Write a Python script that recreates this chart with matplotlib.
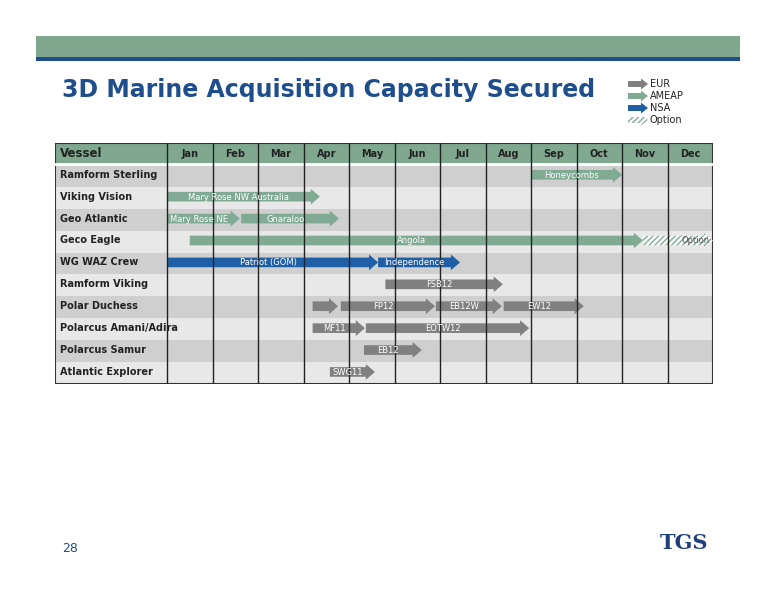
import matplotlib
matplotlib.use("Agg")
import matplotlib.pyplot as plt
from matplotlib.patches import Polygon, Rectangle

vessels = ["Ramform Sterling", "Viking Vision", "Geo Atlantic", "Geco Eagle", "WG WAZ Crew",
           "Ramform Viking", "Polar Duchess", "Polarcus Amani/Adira", "Polarcus Samur", "Atlantic Explorer"]
months = ["Jan", "Feb", "Mar", "Apr", "May", "Jun", "Jul", "Aug", "Sep", "Oct", "Nov", "Dec"]
# (row, start month, end month, label, region)
tasks = [
    (0, 8.0, 10.0, "Honeycombs", "AMEAP"),
    (1, 0.0, 3.36, "Mary Rose NW Australia", "AMEAP"),
    (2, 0.0, 1.6, "Mary Rose NE", "AMEAP"),
    (2, 1.63, 3.78, "Gnaraloo", "AMEAP"),
    (3, 0.5, 10.46, "Angola", "AMEAP"),
    (4, 0.0, 4.64, "Patriot (GOM)", "NSA"),
    (4, 4.64, 6.44, "Independence", "NSA"),
    (5, 4.8, 7.38, "FSB12", "EUR"),
    (6, 3.2, 3.76, "", "EUR"),
    (6, 3.82, 5.89, "FP12", "EUR"),
    (6, 5.91, 7.36, "EB12W", "EUR"),
    (6, 7.4, 9.16, "EW12", "EUR"),
    (7, 3.2, 4.35, "MF11", "EUR"),
    (7, 4.37, 7.96, "EOTW12", "EUR"),
    (8, 4.33, 5.6, "EB12", "EUR"),
    (9, 3.58, 4.57, "SWG11", "EUR"),
]
options = [(3, 10.46, 12.0, "Option")]
colors = {"EUR": "#808080", "AMEAP": "#80aa94", "NSA": "#1f5fa6"}
legend_labels = ["EUR", "AMEAP", "NSA", "Option"]

W, H = 776, 600
fig = plt.figure(figsize=(7.76, 6.0), dpi=100)
fig.patch.set_facecolor("white")

def fx(px): return px / W
def fy(py): return 1 - py / H

fig.add_artist(Rectangle((fx(36), fy(57)), fx(740 - 36), 21 / H, transform=fig.transFigure, color="#7fa88f", lw=0))
fig.add_artist(Rectangle((fx(36), fy(61)), fx(740 - 36), 4 / H, transform=fig.transFigure, color="#1f4e8c", lw=0))
fig.text(fx(62), fy(90), "3D Marine Acquisition Capacity Secured", fontsize=17, fontweight="bold",
         color="#1f4e8c", va="center", ha="left")
fig.text(fx(62), fy(549), "28", fontsize=9, color="#1f4e8c", va="center")
fig.text(fx(660), fy(543), "TGS", fontsize=15, fontweight="bold", color="#1f3f7a", va="center",
         family="DejaVu Serif")

left, right, top, bottom = 55, 713, 143, 384
ax = fig.add_axes([fx(left), fy(bottom), fx(right - left), (bottom - top) / H])
colw = (right - 167) / 12
x0 = -(167 - left) / colw
ax.set_xlim(x0, 12)
ax.set_ylim(10, -1)
ax.axis("off")

for i in range(10):
    ax.add_patch(Rectangle((x0, i), 12 - x0, 1, color="#cfcfcf" if i % 2 == 0 else "#e8e8e8", lw=0))
    ax.text(x0 + 0.1, i + 0.45, vessels[i], fontsize=7, fontweight="bold", va="center", ha="left", color="#222222")
ax.add_patch(Rectangle((x0, -1), 12 - x0, 0.95, color="#7fa88f", lw=0))
ax.plot([x0, 12], [-0.03, -0.03], color="white", lw=2)
ax.text(x0 + 0.1, -0.5, "Vessel", fontsize=8.5, fontweight="bold", va="center", color="#222222")
for j, m in enumerate(months):
    ax.text(j + 0.5, -0.5, m, fontsize=7, fontweight="bold", va="center", ha="center", color="#222222")
for j in range(0, 12):
    ax.plot([j, j], [-1, 10], color="#222222", lw=1)
ax.add_patch(Rectangle((x0, -1), 12 - x0, 11, fill=False, ec="#333333", lw=1.5))

sh, hh, hl = 0.22, 0.36, 0.2
def arrow(a, r, s, e, color, hatch=None, yoff=0.45):
    yc = r + yoff
    pts = [(s, yc - sh), (e - hl, yc - sh), (e - hl, yc - hh), (e, yc), (e - hl, yc + hh),
           (e - hl, yc + sh), (s, yc + sh)]
    if hatch:
        a.add_patch(Polygon(pts, closed=True, facecolor="white", edgecolor="#80aa94", hatch=hatch, lw=0))
    else:
        a.add_patch(Polygon(pts, closed=True, color=color, lw=0))

for r, s, e, lab, reg in tasks:
    arrow(ax, r, s, e, colors[reg])
    if lab:
        ax.text((s + e - hl) / 2, r + 0.47, lab, fontsize=6, color="white", ha="center", va="center")
for r, s, e, lab in options:
    arrow(ax, r, s, e, None, hatch="//////")
    ax.text(s + 0.75 * (e - s), r + 0.47, lab, fontsize=6, color="#555555", ha="center", va="center")

# legend: axes in pixel-like units
lax = fig.add_axes([fx(626), fy(128), fx(100), 50 / H])
lax.set_xlim(0, 100); lax.set_ylim(50, 0); lax.axis("off")
for k, lab in enumerate(legend_labels):
    y = 6 + k * 12
    reg = lab if lab in colors else None
    pts = [(2, y - 3), (15, y - 3), (15, y - 5.5), (22, y), (15, y + 5.5), (15, y + 3), (2, y + 3)]
    if reg:
        lax.add_patch(Polygon(pts, color=colors[reg], lw=0))
    else:
        lax.add_patch(Polygon(pts, facecolor="white", edgecolor="#80aa94", hatch="//////", lw=0))
    lax.text(24, y, lab, fontsize=7, va="center", color="#222222")

fig.savefig("out.png", dpi=100)
